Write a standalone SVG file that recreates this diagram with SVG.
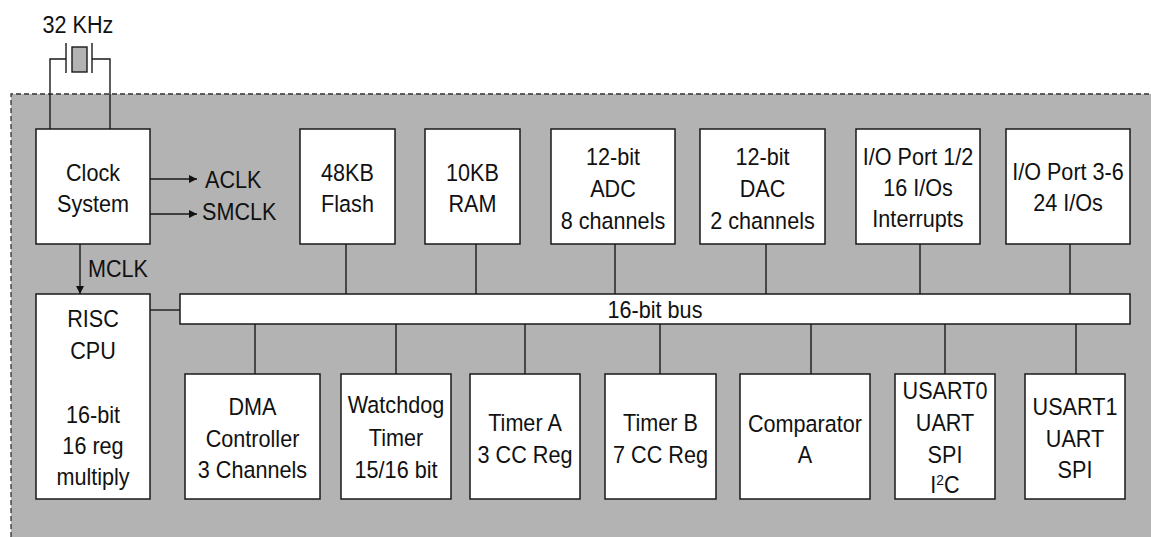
<svg xmlns="http://www.w3.org/2000/svg" width="1151" height="537" viewBox="0 0 1151 537">
<style>
.box{fill:#fff;stroke:#1a1a1a;stroke-width:1.5}
.ln{stroke:#1a1a1a;stroke-width:1.4;fill:none}
text{font-family:"Liberation Sans",Arial,sans-serif;font-size:23.5px;fill:#111;text-anchor:middle;transform-box:fill-box;transform-origin:center;transform:scaleX(0.92)}
.st{text-anchor:start;transform-origin:left center}
</style>
<defs>
<marker id="ah" viewBox="0 0 10 10" refX="10" refY="5" markerWidth="11" markerHeight="8" markerUnits="userSpaceOnUse" orient="auto">
<path d="M0,0 L10,5 L0,10 z" fill="#111"/>
</marker>
</defs>
<rect width="1151" height="537" fill="#fff"/>
<g id="chip">
<rect x="11" y="94" width="1140" height="443" fill="#b3b3b3"/>
<path d="M11,537 V94 H1151" fill="none" stroke="#333" stroke-width="1.3" stroke-dasharray="5,3"/>
</g>
<g id="crystal">
<text x="78" y="33">32 KHz</text>
<rect x="72" y="47" width="15" height="25" fill="#b3b3b3" stroke="#1a1a1a" stroke-width="1.4"/>
<path class="ln" d="M66,43 V73 M92,43 V73"/>
</g>
<g id="connectors">
<path class="ln" d="M50,129 V59 H66 M110,129 V59 H92"/>
<path class="ln" d="M150,179 H197" marker-end="url(#ah)"/>
<path class="ln" d="M150,214 H197" marker-end="url(#ah)"/>
<path class="ln" d="M80,244 V294" marker-end="url(#ah)"/>
<path class="ln" d="M150,310 H180"/>
<path class="ln" d="M346,244 V294 M476,244 V294 M615,244 V294 M766,244 V294 M920,244 V294 M1070,244 V294"/>
<path class="ln" d="M255,324 V374 M396,324 V374 M525,324 V374 M660,324 V374 M811,324 V374 M945,324 V374 M1076,324 V374"/>
<text class="st" x="205" y="188">ACLK</text>
<text class="st" x="202" y="220">SMCLK</text>
<text class="st" x="88" y="277">MCLK</text>
</g>
<g id="clock"><rect class="box" x="36" y="129" width="114" height="115"/><text x="93" y="181">Clock</text><text x="93" y="212">System</text></g>
<g id="cpu"><rect class="box" x="36" y="294" width="114" height="205"/><text x="93" y="327">RISC</text><text x="93" y="359">CPU</text><text x="93" y="423">16-bit</text><text x="93" y="454">16 reg</text><text x="93" y="485">multiply</text></g>
<g id="bus"><rect class="box" x="180" y="294" width="950" height="30"/><text x="655" y="318">16-bit bus</text></g>
<g id="flash"><rect class="box" x="300" y="129" width="95" height="115"/><text x="347.5" y="181">48KB</text><text x="347.5" y="212">Flash</text></g>
<g id="ram"><rect class="box" x="425" y="129" width="95" height="115"/><text x="472.5" y="181">10KB</text><text x="472.5" y="212">RAM</text></g>
<g id="adc"><rect class="box" x="551" y="129" width="124" height="115"/><text x="613" y="165">12-bit</text><text x="613" y="197">ADC</text><text x="613" y="229">8 channels</text></g>
<g id="dac"><rect class="box" x="700" y="129" width="125" height="115"/><text x="762.5" y="165">12-bit</text><text x="762.5" y="197">DAC</text><text x="762.5" y="229">2 channels</text></g>
<g id="io12"><rect class="box" x="856" y="129" width="124" height="115"/><text x="918" y="165">I/O Port 1/2</text><text x="918" y="196">16 I/Os</text><text x="918" y="227">Interrupts</text></g>
<g id="io36"><rect class="box" x="1006" y="129" width="124" height="115"/><text x="1068" y="180">I/O Port 3-6</text><text x="1068" y="211">24 I/Os</text></g>
<g id="dma"><rect class="box" x="185" y="374" width="135" height="125"/><text x="252.5" y="415">DMA</text><text x="252.5" y="447">Controller</text><text x="252.5" y="478">3 Channels</text></g>
<g id="wdt"><rect class="box" x="341" y="374" width="110" height="125"/><text x="396" y="413">Watchdog</text><text x="396" y="446">Timer</text><text x="396" y="478">15/16 bit</text></g>
<g id="timera"><rect class="box" x="470" y="374" width="110" height="125"/><text x="525" y="431">Timer A</text><text x="525" y="463">3 CC Reg</text></g>
<g id="timerb"><rect class="box" x="605" y="374" width="111" height="125"/><text x="660.5" y="431">Timer B</text><text x="660.5" y="463">7 CC Reg</text></g>
<g id="comp"><rect class="box" x="740" y="374" width="130" height="125"/><text x="805" y="432">Comparator</text><text x="805" y="463">A</text></g>
<g id="usart0"><rect class="box" x="895" y="374" width="100" height="125"/><text x="945" y="399">USART0</text><text x="945" y="431">UART</text><text x="945" y="463">SPI</text><text x="945" y="493">I<tspan font-size="15" dy="-8">2</tspan><tspan dy="8">C</tspan></text></g>
<g id="usart1"><rect class="box" x="1025" y="374" width="100" height="125"/><text x="1075" y="415">USART1</text><text x="1075" y="447">UART</text><text x="1075" y="478">SPI</text></g>
</svg>
